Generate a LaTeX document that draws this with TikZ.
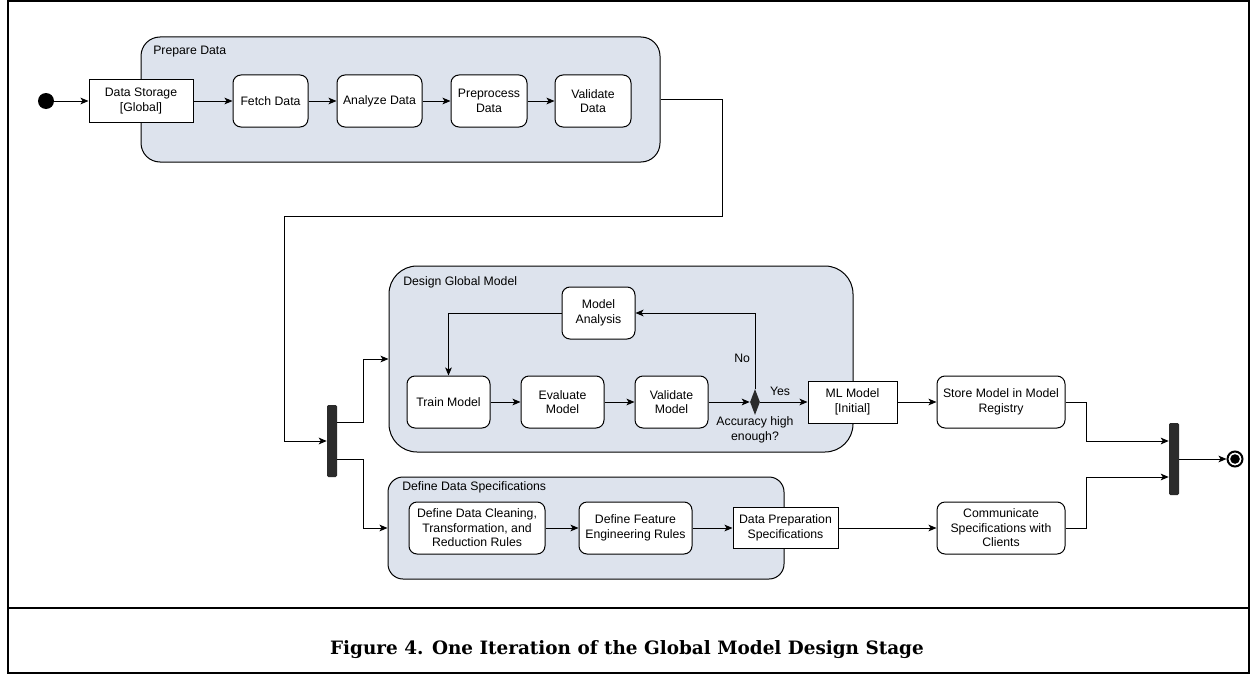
\documentclass[tikz,border=0pt]{standalone}
\usepackage{fontspec}
\setsansfont{Liberation Sans}
\newfontfamily\capfont{DejaVu Serif}
\usetikzlibrary{arrows.meta,positioning,shapes.geometric,calc}
\definecolor{lanecol}{HTML}{DDE3ED}
\definecolor{barcol}{HTML}{2B2B2B}
\newcommand{\px}{0.75pt}
\tikzset{
  flow/.style={-{Stealth[length=6pt,width=5pt,inset=1.5pt]}, line width=0.75pt},
  lane/.style={draw, fill=lanecol, line width=0.75pt, inner sep=0pt},
  lanetitle/.style={anchor=west, inner sep=0pt},
  act/.style={draw, fill=white, rounded corners=6pt, line width=0.75pt, align=center, inner sep=1pt, minimum height=52*\px},
  obj/.style={draw, fill=white, line width=0.75pt, align=center, inner sep=1pt},
  bar/.style={fill=barcol, rounded corners=1pt, minimum width=10*\px, minimum height=72*\px, inner sep=0pt},
}

\begin{document}
\begin{tikzpicture}[x=0.75pt, y=-0.75pt, font=\sffamily\fontsize{9.2}{10.8}\selectfont]
\useasboundingbox (0,0) rectangle (1252,674);

% frame and caption
\draw[line width=1.5pt] (8,1) rectangle (1249,673);
\draw[line width=2pt] (8,608) -- (1249,608);
\node[font=\capfont\bfseries\fontsize{13.8}{16}\selectfont] (caption) at (627,650) {Figure 4. One Iteration of the Global Model Design Stage};

% lanes
\node[lane, rounded corners=14.25pt, minimum width=519*\px, minimum height=125*\px] (prepare) at (400.5,99.5) {};
\node[lanetitle] (preptitle) at (153,52) {Prepare Data};
\node[lane, rounded corners=21pt, minimum width=464*\px, minimum height=186*\px] (design) at (621,359) {};
\node[lanetitle] (designtitle) at (403,282) {Design Global Model};
\node[lane, rounded corners=11.25pt, minimum width=396*\px, minimum height=102*\px] (spec) at (586,528) {};
\node[lanetitle] (spectitle) at (402,487) {Define Data Specifications};

% prepare data
\node[circle, fill=black, minimum size=16*\px, inner sep=0pt] (init) at (46,101) {};
\node[obj, minimum width=104*\px, minimum height=42*\px] (storage) at (141,101) {Data Storage\\{}[Global]};
\foreach \nm/\x/\w/\txt in {fetch/270.5/75/{Fetch Data}, analyze/379.5/85/{Analyze Data}, preprocess/489/76/{Preprocess\\Data}, validate/593/76/{Validate\\Data}}{
  \node[act, minimum width=\w*\px] (\nm) at (\x,101) {\txt};
}
\foreach \a/\b in {init/storage, storage/fetch, fetch/analyze, analyze/preprocess, preprocess/validate}
  \draw[flow] (\a) -- (\b);

\node[bar] (fork) at (332,441) {};
\draw[flow] (prepare.east) -- ++(62,0) -- ++(0,117) -| ($(fork.west)+(-42,0)$) -- (fork.west);
\draw[flow] ($(fork.east)+(0,-19)$) -- ++(26,0) |- (design.west);
\draw[flow] ($(fork.east)+(0,18)$) -- ++(26,0) |- (spec.west);

% design global model
\node[act, minimum width=73*\px] (analysis) at (598.5,313) {Model\\Analysis};
\node[act, minimum width=83*\px] (train) at (448.5,402) {Train Model};
\node[act, minimum width=83*\px] (evaluate) at (562.5,402) {Evaluate\\Model};
\node[act, minimum width=73*\px] (validm) at (671.5,402) {Validate\\Model};
\node[diamond, fill=barcol, minimum width=10*\px, minimum height=26*\px, inner sep=0pt] (dec) at (755,402) {};
\node[below=0pt of dec, align=center, inner sep=1pt] (acc) {Accuracy high\\enough?};
\node[obj, minimum width=89*\px, minimum height=42*\px] (mlmodel) at (852.5,402) {ML Model\\{}[Initial]};
\node[act, minimum width=128*\px] (store) at (1001,402) {Store Model in Model\\Registry};

\draw[flow] (analysis.west) -| (train.north);
\foreach \a/\b in {train/evaluate, evaluate/validm, validm/dec, mlmodel/store}
  \draw[flow] (\a) -- (\b);
\draw[flow] (dec.north) |- (analysis.east) node[pos=0.2, left=0pt] {No};
\draw[flow] (dec.east) -- (mlmodel.west) node[pos=0.42, above=1pt] {Yes};

% define data specifications
\node[act, minimum width=136*\px] (clean) at (477,528) {Define Data Cleaning,\\Transformation, and\\Reduction Rules};
\node[act, minimum width=113*\px] (feature) at (635.5,528) {Define Feature\\Engineering Rules};
\node[obj, minimum width=105*\px, minimum height=41*\px] (prepspec) at (785.5,528) {Data Preparation\\Specifications};
\node[act, minimum width=128*\px] (communicate) at (1001,528) {Communicate\\Specifications with\\Clients};
\foreach \a/\b in {clean/feature, feature/prepspec, prepspec/communicate}
  \draw[flow] (\a) -- (\b);

% join and end
\node[bar] (join) at (1174,459) {};
\node[circle, draw, line width=1.5pt, minimum size=15*\px, inner sep=0pt] (end) at (1235,459) {};
\fill (end.center) circle[radius=3.6pt];
\draw[flow] (store.east) -- ++(21,0) |- ($(join.west)+(0,-18)$);
\draw[flow] (communicate.east) -- ++(21,0) |- ($(join.west)+(0,18)$);
\draw[flow] (join.east) -- (end);
\end{tikzpicture}
\end{document}
